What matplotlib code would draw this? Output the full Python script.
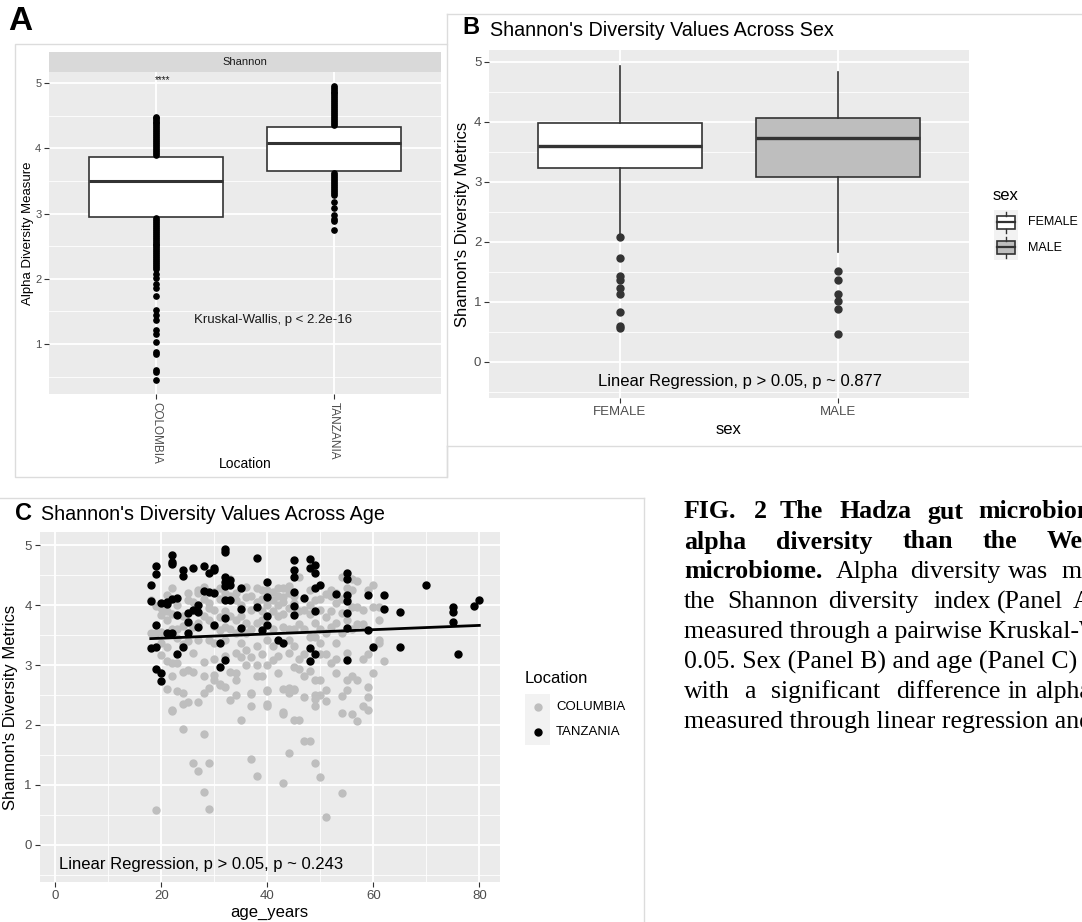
import matplotlib as mpl
import numpy as np
from matplotlib import pyplot as plt
from matplotlib.patches import Rectangle
from matplotlib.lines import Line2D

W, H = 1082, 922
SANS = ["Liberation Sans", "DejaVu Sans"]
SERIF = ["Liberation Serif", "DejaVu Serif"]
plt.rcParams["font.family"] = SANS

PANEL_BG = "#EBEBEB"
TICK_TXT = "#4D4D4D"
DARK = "#333333"
GREY75 = "#BEBEBE"

# ---- panel A: alpha diversity by location ----
loc_names = ["COLOMBIA", "TANZANIA"]
loc_q1 = [2.95, 3.65]
loc_med = [3.50, 4.08]
loc_q3 = [3.87, 4.33]
colombia_pts = [3.90, 3.93, 3.96, 3.99, 4.02, 4.05, 4.08, 4.11, 4.14, 4.17, 4.20,
                4.23, 4.26, 4.29, 4.32, 4.35, 4.38, 4.41, 4.44, 4.46, 4.48,
                2.93, 2.90, 2.87, 2.84, 2.81, 2.78, 2.75, 2.72, 2.69, 2.66, 2.63,
                2.60, 2.57, 2.54, 2.51, 2.48, 2.45, 2.42, 2.39, 2.36, 2.33, 2.30,
                2.27, 2.24, 2.21, 2.18, 2.15, 2.07, 2.01, 1.92, 1.86, 1.73, 1.52,
                1.44, 1.37, 1.22, 1.15, 1.03, 0.88, 0.85, 0.60, 0.57, 0.45]
tanzania_pts = [4.36, 4.39, 4.42, 4.45, 4.48, 4.51, 4.54, 4.57, 4.60, 4.63, 4.66,
                4.69, 4.72, 4.75, 4.78, 4.81, 4.84, 4.87, 4.90, 4.93, 4.95,
                3.62, 3.59, 3.56, 3.53, 3.50, 3.47, 3.44, 3.41, 3.38, 3.35, 3.32,
                3.28, 3.18, 3.08, 2.98, 2.92, 2.88, 2.74]

# ---- panel B: by sex ----
sex_names = ["FEMALE", "MALE"]
sex_q1 = [3.23, 3.08]
sex_med = [3.60, 3.73]
sex_q3 = [3.99, 4.07]
sex_whislo = [2.12, 1.84]
sex_whishi = [4.94, 4.83]
female_out = [2.08, 1.73, 1.43, 1.37, 1.23, 1.14, 0.84, 0.60, 0.56]
male_out = [1.52, 1.36, 1.14, 1.02, 0.88, 0.46]
sex_fill = ["white", GREY75]

# ---- panel C: by age ----
colombia_age_shannon = [
    (21, 2.60), (23, 2.56), (24, 2.54), (24, 2.35), (25, 2.39), (22, 2.23), (27, 2.39),
    (28, 2.54), (29, 2.61), (31, 2.67), (24, 1.93), (28, 1.85), (26, 1.37), (29, 1.37),
    (27, 1.23), (28, 0.88), (29, 0.60), (19, 0.58), (33, 2.41), (34, 2.50), (35, 2.09),
    (37, 2.52), (37, 2.31), (37, 1.44), (38, 1.15), (40, 2.56), (40, 2.35), (40, 2.31),
    (43, 2.60), (44, 2.53), (45, 2.60), (43, 2.19), (43, 1.03), (44, 1.53), (45, 2.08),
    (46, 2.09), (47, 2.46), (47, 1.73), (48, 1.73), (49, 2.50), (49, 2.43), (49, 2.31),
    (49, 1.37), (50, 1.14), (51, 2.58), (51, 2.40), (51, 0.46), (54, 0.86), (50, 2.50),
    (54, 2.48), (56, 2.19), (57, 2.07), (58, 2.32), (59, 2.25), (59, 2.47), (59, 2.64),
    (60, 2.86), (62, 3.06), (61, 3.36), (61, 3.97), (60, 4.33), (59, 4.25), (54, 4.47),
    (56, 4.44), (57, 3.69), (58, 3.69), (56, 2.81), (55, 2.75), (53, 2.86), (52, 3.03),
    (51, 3.19), (50, 3.36), (49, 2.75), (47, 2.81), (46, 2.94), (45, 2.97), (45, 2.58),
    (44, 2.61), (43, 2.22), (42, 2.86), (41, 3.08), (40, 2.58), (39, 2.81), (38, 2.81),
    (37, 2.53), (36, 3.00), (35, 3.14), (34, 2.86), (34, 2.75), (33, 2.89), (32, 2.64),
    (31, 2.69), (30, 2.75), (30, 2.83), (28, 2.81), (26, 2.89), (25, 2.92), (24, 2.89),
    (23, 3.03), (22, 2.81), (22, 3.03), (21, 3.06), (20, 3.17), (20, 3.36), (19, 3.53),
    (18, 3.53), (18, 4.08), (20, 3.83), (21, 4.17), (22, 4.28), (23, 4.00), (24, 3.81),
    (25, 4.08), (26, 3.64), (27, 4.25), (27, 3.42), (28, 3.81), (29, 4.03), (29, 3.42),
    (30, 3.92), (30, 3.36), (31, 4.28), (31, 3.58), (32, 3.64), (32, 3.42), (33, 4.44),
    (33, 3.81), (34, 4.08), (34, 3.53), (35, 3.81), (35, 3.36), (36, 4.14), (36, 3.53),
    (37, 3.92), (37, 3.14), (38, 4.28), (38, 3.31), (39, 3.75), (39, 3.19), (40, 4.25),
    (40, 3.42), (41, 4.08), (41, 3.31), (42, 4.28), (42, 3.81), (43, 4.14), (43, 3.64),
    (44, 4.31), (44, 3.42), (45, 4.03), (45, 3.31), (46, 4.47), (46, 3.69), (47, 3.92),
    (47, 3.19), (48, 4.25), (48, 3.47), (49, 4.08), (49, 3.47), (50, 3.92), (50, 3.19),
    (51, 4.19), (51, 3.53), (52, 4.25), (52, 3.64), (53, 4.03), (53, 3.36), (54, 3.86),
    (54, 3.53), (55, 4.28), (56, 3.97), (57, 3.97), (58, 3.92), (59, 3.19), (60, 3.97),
    (61, 3.75), (61, 3.42), (40, 4.00), (41, 3.90), (42, 4.00), (43, 4.05), (44, 3.95),
    (38, 3.70), (39, 3.90), (36, 3.70), (34, 3.75), (33, 3.60), (31, 3.80), (29, 3.75),
    (27, 3.70), (26, 4.05), (28, 4.10), (30, 3.65), (32, 3.90), (35, 4.00), (37, 3.60),
    (44, 3.60), (46, 3.90), (47, 3.60), (48, 3.85), (49, 3.70), (50, 3.60), (51, 3.80),
    (52, 3.90), (53, 3.70), (54, 4.10), (55, 3.75), (56, 3.60), (45, 3.60), (43, 3.85),
    (41, 3.60), (39, 4.10), (37, 4.15), (35, 3.55), (33, 4.15), (31, 4.10), (29, 3.95),
    (25, 3.40), (24, 3.65), (22, 3.60), (23, 3.45), (21, 3.75), (20, 3.55), (19, 3.98),
    (39, 4.25), (41, 4.22), (42, 4.15), (43, 4.28), (44, 4.20), (45, 4.15), (40, 4.12),
    (38, 4.05), (36, 4.30), (34, 4.20), (32, 4.20), (30, 4.22), (28, 4.30), (27, 4.20),
    (25, 4.20), (22, 3.85), (21, 3.30), (48, 4.00), (50, 4.10), (52, 4.15), (53, 4.20),
    (55, 4.10), (56, 4.25), (57, 4.40), (55, 2.58), (54, 2.20), (57, 2.75), (58, 3.10),
    (55, 3.20), (53, 3.10), (50, 2.75), (48, 2.90), (46, 3.10), (44, 3.20), (42, 3.15),
    (40, 3.00), (38, 3.00), (36, 3.25), (34, 3.20), (32, 3.15), (30, 3.10), (28, 3.05),
    (26, 3.20), (24, 3.35), (23, 3.60), (21, 3.90), (20, 3.95), (22, 2.25),
]
tanzania_age_shannon = [
    (18, 4.33), (18, 4.06), (18, 3.28), (19, 4.65), (19, 4.52), (19, 3.67), (19, 3.30),
    (19, 2.94), (20, 4.04), (20, 2.87), (20, 2.74), (21, 4.05), (21, 4.02), (21, 3.53),
    (22, 4.83), (22, 4.72), (22, 4.68), (22, 4.10), (22, 3.54), (23, 4.12), (23, 3.83),
    (23, 3.18), (24, 4.58), (24, 4.48), (24, 3.30), (25, 3.86), (25, 3.72), (25, 3.53),
    (26, 4.62), (26, 3.91), (27, 4.00), (27, 3.64), (27, 3.89), (28, 4.65), (28, 4.24),
    (29, 4.54), (29, 4.21), (30, 4.62), (30, 4.58), (30, 3.67), (30, 4.20), (31, 3.37),
    (31, 2.97), (32, 4.94), (32, 4.89), (32, 4.47), (32, 4.39), (32, 4.31), (32, 4.08),
    (32, 3.78), (32, 3.08), (33, 4.09), (33, 4.42), (33, 4.33), (35, 4.28), (35, 3.94),
    (35, 3.61), (38, 4.79), (38, 3.97), (39, 3.58), (40, 4.39), (40, 4.14), (40, 3.81),
    (40, 3.67), (42, 3.42), (43, 3.36), (45, 4.75), (45, 4.59), (45, 4.46), (45, 4.22),
    (45, 3.99), (45, 3.83), (47, 4.12), (48, 4.76), (48, 4.61), (48, 3.28), (48, 3.07),
    (49, 4.67), (49, 4.53), (49, 4.29), (49, 3.90), (49, 3.18), (50, 4.33), (53, 4.18),
    (55, 4.54), (55, 4.44), (55, 4.17), (55, 4.06), (55, 3.86), (55, 3.61), (55, 3.08),
    (59, 4.17), (59, 3.58), (60, 3.30), (62, 4.17), (62, 3.94), (65, 3.89), (65, 3.30),
    (70, 4.33), (75, 3.97), (75, 3.89), (75, 3.71), (76, 3.19), (79, 3.98), (80, 4.08),
]
fit_age = [18, 80]
fit_shannon = [3.44, 3.66]
colombia_age, colombia_shannon = zip(*colombia_age_shannon)
tanzania_age, tanzania_shannon = zip(*tanzania_age_shannon)

fig = plt.figure(figsize=(W / 100, H / 100), dpi=100)
fig.patch.set_facecolor("white")


def px_axes(x0, y0, x1, y1):
    return fig.add_axes([x0 / W, 1 - y1 / H, (x1 - x0) / W, (y1 - y0) / H])


def ftext(x, y, s, **kw):
    return fig.text(x / W, 1 - y / H, s, **kw)


def fline(xs, ys, color="#DCDCDC", lw=1.0):
    fig.add_artist(Line2D([x / W for x in xs], [1 - y / H for y in ys],
                          color=color, lw=lw, transform=fig.transFigure))


def gg_style(ax, xmajor, xminor, ymajor, yminor, tick_size):
    ax.set_facecolor(PANEL_BG)
    for s in ax.spines.values():
        s.set_visible(False)
    ax.set_xticks(xmajor)
    ax.set_xticks(xminor, minor=True)
    ax.set_yticks(ymajor)
    ax.set_yticks(yminor, minor=True)
    ax.grid(which="major", color="white", lw=1.3)
    ax.grid(which="minor", color="white", lw=0.6)
    ax.set_axisbelow(True)
    ax.tick_params(which="major", length=3.5, width=0.8, color=DARK,
                   labelcolor=TICK_TXT, labelsize=tick_size, pad=2)
    ax.tick_params(which="minor", length=0)


def legend_box(x0, y0, x1, y1):
    ax = px_axes(x0, y0, x1, y1)
    ax.set_facecolor("#F2F2F2")
    ax.set_xlim(0, 1)
    ax.set_ylim(0, 2)
    ax.set_xticks([])
    ax.set_yticks([])
    for s in ax.spines.values():
        s.set_visible(False)
    return ax


# frames from the pasted screenshots
fig.add_artist(Rectangle((15 / W, 1 - 477 / H), 432 / W, 433 / H, transform=fig.transFigure,
                         fill=False, edgecolor="#DCDCDC", lw=1.0))
fline([447, 1082], [14, 14])
fline([447, 447], [14, 44])
fline([447, 1082], [446, 446])
fline([447, 447], [446, 477])
fline([0, 644], [498, 498])
fline([644, 644], [498, 922])

# ---------- panel A ----------
axA = px_axes(49, 72, 441, 394)
gg_style(axA, [1, 2], [], [1, 2, 3, 4, 5], [0.5, 1.5, 2.5, 3.5, 4.5], 8)
axA.plot([1] * len(colombia_pts), colombia_pts, "o", color="black", ms=3.8, zorder=4)
axA.plot([2] * len(tanzania_pts), tanzania_pts, "o", color="black", ms=3.8, zorder=4)
statsA = [dict(q1=loc_q1[i], med=loc_med[i], q3=loc_q3[i], whislo=loc_q1[i],
               whishi=loc_q3[i], fliers=[]) for i in range(2)]
axA.bxp(statsA, positions=[1, 2], widths=0.75, patch_artist=True, showcaps=False,
        showfliers=False, zorder=3,
        boxprops=dict(facecolor="white", edgecolor=DARK, lw=1.2),
        medianprops=dict(color=DARK, lw=2.2), whiskerprops=dict(color=DARK, lw=1.0))
axA.set_xlim(0.4, 2.6)
axA.set_ylim(0.234, 5.169)
axA.set_xticks([1, 2])
axA.set_xticklabels(loc_names, rotation=270, ha="center", va="top", fontsize=8.5)
axA.text(1.035, 5.05, "****", ha="center", va="center", fontsize=7, color="#1A1A1A")
axA.text(1.66, 1.37, "Kruskal-Wallis, p < 2.2e-16", ha="center", va="center",
         fontsize=9.5, color="#1A1A1A")

stripA = px_axes(49, 52, 441, 72)
stripA.set_facecolor("#D9D9D9")
stripA.set_xticks([])
stripA.set_yticks([])
for s in stripA.spines.values():
    s.set_visible(False)
stripA.text(0.5, 0.5, "Shannon", ha="center", va="center", fontsize=8,
            color="#1A1A1A", transform=stripA.transAxes)

ftext(20, 21, "A", fontsize=24, weight="bold", ha="center", va="center")
ftext(28, 233, "Alpha Diversity Measure", rotation=90, ha="center", va="center", fontsize=9.5)
ftext(245, 464, "Location", ha="center", va="center", fontsize=10)

# ---------- panel B ----------
axB = px_axes(489, 50, 969, 398)
gg_style(axB, [1, 2], [], [0, 1, 2, 3, 4, 5], [-0.5, 0.5, 1.5, 2.5, 3.5, 4.5], 9.5)
statsB = [dict(q1=sex_q1[i], med=sex_med[i], q3=sex_q3[i], whislo=sex_whislo[i],
               whishi=sex_whishi[i], fliers=[]) for i in range(2)]
boxes = axB.bxp(statsB, positions=[1, 2], widths=0.75, patch_artist=True, showcaps=False,
                showfliers=False, zorder=3,
                boxprops=dict(edgecolor=DARK, lw=1.2),
                medianprops=dict(color=DARK, lw=2.4), whiskerprops=dict(color=DARK, lw=1.2))
for patch, fc in zip(boxes["boxes"], sex_fill):
    patch.set_facecolor(fc)
axB.plot([1] * len(female_out), female_out, "o", color=DARK, ms=5, zorder=4)
axB.plot([2] * len(male_out), male_out, "o", color=DARK, ms=5, zorder=4)
axB.set_xlim(0.4, 2.6)
axB.set_ylim(-0.6, 5.2)
axB.set_xticks([1, 2])
axB.set_xticklabels(sex_names)
axB.text(1.55, -0.33, "Linear Regression, p > 0.05, p ~ 0.877", ha="center", va="center",
         fontsize=12, color="black")

ftext(471, 28, "B", fontsize=17, weight="bold", ha="center", va="center")
ftext(490, 30, "Shannon's Diversity Values Across Sex", ha="left", va="center", fontsize=14.2)
ftext(462, 224, "Shannon's Diversity Metrics", rotation=90, ha="center", va="center", fontsize=12)
ftext(729, 430, "sex", ha="center", va="center", fontsize=12)

legB = legend_box(994, 210, 1018, 260)
for k, fc in enumerate(sex_fill):
    y0 = 1 - k
    legB.add_patch(Rectangle((0.12, y0 + 0.25), 0.76, 0.5, facecolor=fc, edgecolor=DARK, lw=1.2))
    legB.plot([0.12, 0.88], [y0 + 0.5, y0 + 0.5], color=DARK, lw=1.6)
    legB.plot([0.5, 0.5], [y0 + 0.08, y0 + 0.25], color=DARK, lw=1.0)
    legB.plot([0.5, 0.5], [y0 + 0.75, y0 + 0.92], color=DARK, lw=1.0)
ftext(993, 196, "sex", ha="left", va="center", fontsize=12)
ftext(1028, 222, "FEMALE", ha="left", va="center", fontsize=9)
ftext(1028, 248, "MALE", ha="left", va="center", fontsize=9)

# ---------- panel C ----------
axC = px_axes(39.5, 532, 500, 882)
gg_style(axC, [0, 20, 40, 60, 80], [10, 30, 50, 70], [0, 1, 2, 3, 4, 5],
         [-0.5, 0.5, 1.5, 2.5, 3.5, 4.5], 9.5)
axC.plot(colombia_age, colombia_shannon, "o", color=GREY75, ms=5, zorder=3)
axC.plot(tanzania_age, tanzania_shannon, "o", color="black", ms=5, zorder=4)
axC.plot(fit_age, fit_shannon, color="black", lw=2, zorder=5)
axC.set_xlim(-3.0, 83.9)
axC.set_ylim(-0.617, 5.217)
axC.text(0.7, -0.33, "Linear Regression, p > 0.05, p ~ 0.243", ha="left", va="center",
         fontsize=12, color="black")

ftext(23, 513, "C", fontsize=17, weight="bold", ha="center", va="center")
ftext(41, 514, "Shannon's Diversity Values Across Age", ha="left", va="center", fontsize=14.2)
ftext(11, 707, "Shannon's Diversity Metrics", rotation=90, ha="center", va="center", fontsize=12)
ftext(269, 912, "age_years", ha="center", va="center", fontsize=12)

legC = legend_box(525, 694, 550, 745)
legC.plot([0.5], [1.5], "o", color=GREY75, ms=5)
legC.plot([0.5], [0.5], "o", color="black", ms=5)
ftext(525, 678, "Location", ha="left", va="center", fontsize=12)
ftext(556, 707, "COLUMBIA", ha="left", va="center", fontsize=9.5)
ftext(556, 732, "TANZANIA", ha="left", va="center", fontsize=9.5)

# ---------- caption (clipped at the right edge like the source) ----------
CAP = 18.6
caption_words = [
    (512, True, [(684, "FIG."), (754, "2"), (780, "The"), (839, "Hadza"), (927, "gut"),
                 (978, "microbiome")]),
    (542, True, [(684, "alpha"), (776, "diversity"), (903, "than"), (983, "the"),
                 (1047, "Western")]),
    (572, False, [(836, "Alpha"), (910, "diversity"), (1008, "was"), (1062, "measured")]),
    (602, False, [(684, "the"), (727, "Shannon"), (828, "diversity"), (933, "index"),
                  (997, "(Panel"), (1073, "A)")]),
    (692, False, [(684, "with"), (744, "a"), (771, "significant"), (896, "difference"),
                  (1008, "in"), (1035, "alpha")]),
]
for y, bold, words in caption_words:
    for x, w in words:
        ftext(x, y, w, family=SERIF, fontsize=CAP, weight="bold" if bold else "normal",
              ha="left", va="center")
ftext(684, 572, "microbiome.", family=SERIF, fontsize=CAP, weight="bold", ha="left", va="center")
ftext(684, 632, "measured through a pairwise Kruskal-Wallis", family=SERIF, fontsize=CAP,
      ha="left", va="center")
ftext(684, 662, "0.05. Sex (Panel B) and age (Panel C) were", family=SERIF, fontsize=CAP,
      ha="left", va="center")
ftext(684, 722, "measured through linear regression and", family=SERIF, fontsize=CAP,
      ha="left", va="center")

fig.savefig("out.png", dpi=100)
